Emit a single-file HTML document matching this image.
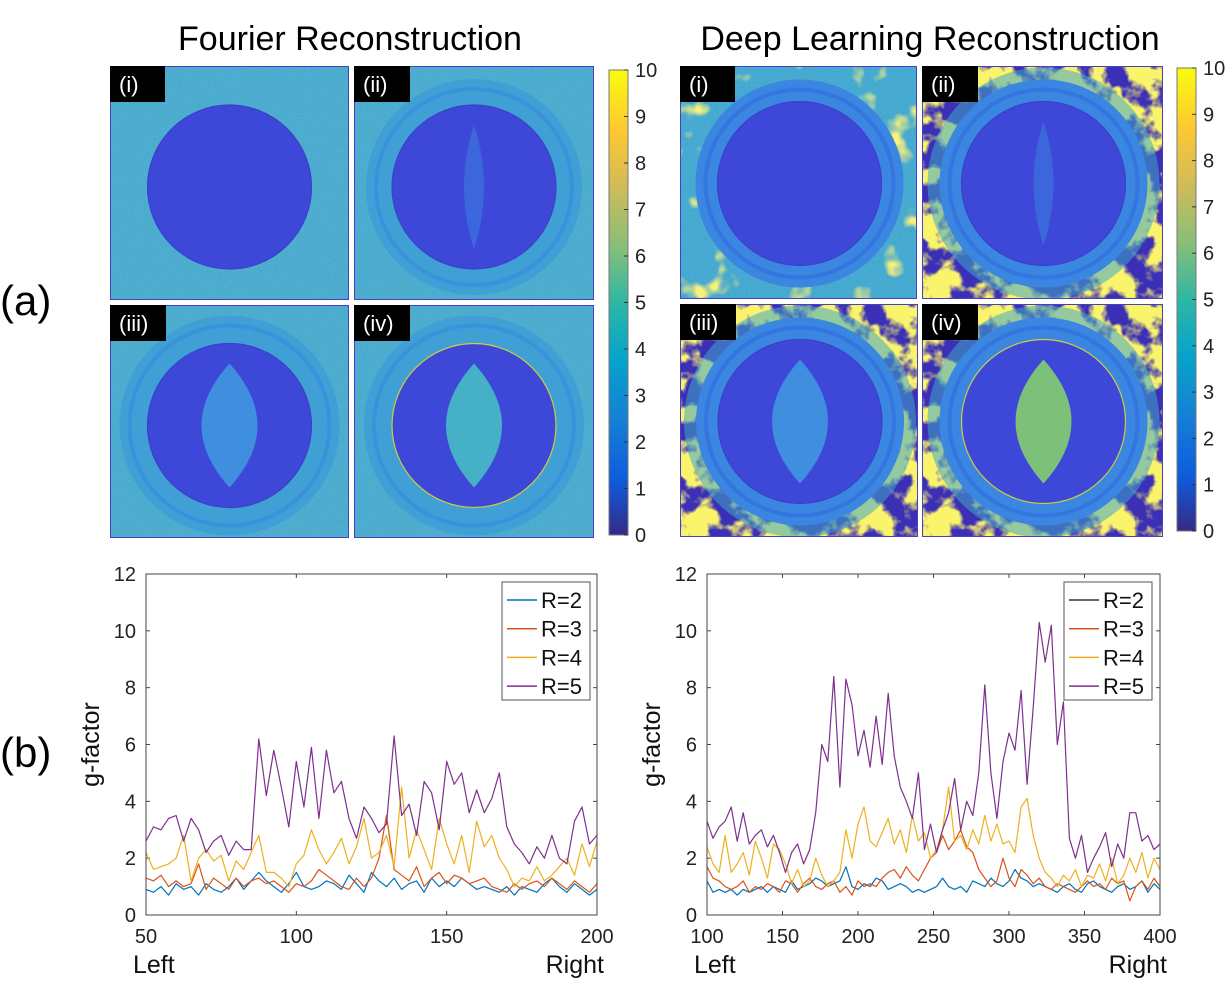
<!DOCTYPE html>
<html><head><meta charset="utf-8">
<style>
html,body{margin:0;padding:0;background:#fff;}
svg{display:block;font-family:"Liberation Sans",sans-serif;}
</style></head>
<body>
<svg id="fig" width="1232" height="994" viewBox="0 0 1232 994" xmlns="http://www.w3.org/2000/svg">
<defs>
  <linearGradient id="parula" x1="0" y1="1" x2="0" y2="0">
    <stop offset="0" stop-color="#352a87"/>
    <stop offset="0.12" stop-color="#0f5cdd"/>
    <stop offset="0.25" stop-color="#1481d6"/>
    <stop offset="0.38" stop-color="#06a4ca"/>
    <stop offset="0.5" stop-color="#2eb7a4"/>
    <stop offset="0.62" stop-color="#87bf77"/>
    <stop offset="0.75" stop-color="#d1bb59"/>
    <stop offset="0.87" stop-color="#fec832"/>
    <stop offset="1" stop-color="#f9fb0e"/>
  </linearGradient>
  <filter id="noise" x="0" y="0" width="100%" height="100%">
    <feTurbulence type="fractalNoise" baseFrequency="0.9" numOctaves="1" seed="2"/>
    <feColorMatrix type="matrix" values="0 0 0 0 0.3  0 0 0 0 0.75  0 0 0 0 0.6  1.2 0 0 0 -0.45"/>
  </filter>
  <filter id="blobY" x="0" y="0" width="100%" height="100%">
    <feTurbulence type="fractalNoise" baseFrequency="0.035" numOctaves="4" seed="5"/>
    <feColorMatrix type="matrix" values="0 0 0 0 0.96  0 0 0 0 0.9  0 0 0 0 0.15  7 0 0 0 -2.9"/>
  </filter>
  <filter id="blobS" x="0" y="0" width="100%" height="100%">
    <feTurbulence type="fractalNoise" baseFrequency="0.03" numOctaves="3" seed="9"/>
    <feColorMatrix type="matrix" values="0 0 0 0 0.95  0 0 0 0 0.88  0 0 0 0 0.2  6 0 0 0 -3.6"/>
  </filter>
</defs>
<text x="350" y="50" font-size="34" text-anchor="middle">Fourier Reconstruction</text>
<text x="930" y="50" font-size="34" text-anchor="middle">Deep Learning Reconstruction</text>
<text x="0" y="315" font-size="42">(a)</text>
<text x="0" y="767" font-size="42">(b)</text>
<g id="panels"></g>
<g id="cbars"></g>
<g id="plots"></g>
</svg>
<script>
// ---------------- chart data ----------------
const leftXRange = [50, 200];
const leftXTicks = [50, 100, 150, 200];
const rightXRange = [100, 400];
const rightXTicks = [100, 150, 200, 250, 300, 350, 400];
const yTicks = [0, 2, 4, 6, 8, 10, 12];
const seriesNames = ["R=2", "R=3", "R=4", "R=5"];
const colorbarTicks = [0,1,2,3,4,5,6,7,8,9,10];

const leftR2 = [0.9,0.8,1.0,0.7,1.1,0.9,1.0,0.7,1.1,0.9,0.8,1.0,1.3,0.9,1.2,1.5,1.2,1.0,0.8,1.1,1.5,1.0,0.9,1.0,1.2,1.1,0.9,1.4,1.1,0.8,1.5,1.2,1.0,1.3,0.9,1.1,1.2,0.8,1.3,1.0,1.2,1.0,1.3,1.1,0.9,1.0,0.9,0.8,1.0,0.7,1.0,0.9,0.8,1.1,1.3,1.0,0.8,1.1,0.9,0.7,0.9];
const leftR3 = [1.3,1.2,1.4,1.0,1.2,1.0,1.1,1.8,0.9,1.3,1.1,0.9,1.3,1.0,1.2,1.3,1.1,1.2,1.0,0.8,1.1,1.0,1.2,1.6,1.4,1.2,1.0,0.9,1.3,1.0,1.3,2.0,3.5,1.6,1.4,1.2,1.7,1.0,1.3,1.5,1.1,1.4,1.3,1.1,1.2,1.3,1.0,0.9,0.8,1.1,0.9,1.1,1.2,1.0,1.3,1.1,0.9,1.2,1.0,0.8,1.1];
const leftR4 = [2.2,1.6,1.7,1.8,2.0,2.8,1.2,2.0,2.3,1.9,2.1,1.2,1.9,1.6,2.2,2.8,1.5,1.5,1.3,1.0,1.8,2.1,3.0,2.3,1.8,2.2,2.7,1.8,2.4,3.4,2.0,2.2,2.8,1.7,4.5,2.0,3.0,2.3,1.6,3.4,2.5,1.8,2.8,1.5,3.3,2.4,2.8,2.0,1.6,1.0,1.3,1.2,1.7,1.2,1.4,1.7,2.0,1.4,2.5,1.7,2.6];
const leftR5 = [2.6,3.1,3.0,3.4,3.5,2.6,3.4,3.0,2.2,2.6,2.8,2.1,2.6,2.3,2.3,6.2,4.2,5.8,4.5,3.1,5.4,3.8,5.9,3.4,5.8,4.3,4.7,3.4,2.7,3.8,3.4,2.9,3.2,6.3,3.5,3.9,2.8,4.7,4.3,3.0,5.4,4.6,5.0,3.6,4.4,3.6,4.1,5.0,3.1,2.5,2.2,1.8,2.4,2.0,2.8,2.0,1.8,3.3,3.8,2.5,2.8];

const rightR2 = [1.2,0.8,0.9,0.8,0.9,0.7,0.9,0.8,0.9,1.0,0.8,1.0,0.9,0.8,1.2,0.9,1.0,1.1,1.3,1.2,1.0,1.1,1.2,1.7,1.0,0.9,1.1,1.0,1.3,1.2,0.9,1.0,1.1,1.0,0.8,0.9,0.8,0.9,1.0,1.3,1.0,0.9,1.0,0.8,1.2,1.1,1.0,1.3,1.1,1.0,1.2,1.6,1.3,1.2,1.0,1.1,1.0,0.9,0.8,1.0,1.1,0.9,0.8,1.1,1.2,1.0,0.9,0.8,1.0,1.1,0.9,1.0,1.2,0.8,1.1,0.9];
const rightR3 = [1.7,1.3,1.2,1.0,0.9,1.0,1.2,0.8,1.0,0.9,1.1,1.0,0.8,1.2,1.1,0.8,1.1,1.3,1.0,0.9,1.1,1.2,0.8,1.0,0.7,1.2,1.0,1.1,1.0,1.3,1.5,1.6,1.3,1.7,1.4,1.2,1.6,2.0,2.2,2.8,2.3,2.6,3.0,2.4,2.2,1.6,1.3,1.0,1.2,2.0,1.3,1.0,1.6,1.4,1.1,1.3,1.0,0.9,1.1,1.0,0.9,0.8,1.0,1.2,1.0,1.1,0.9,1.3,1.1,1.2,0.5,1.0,1.2,0.9,1.3,1.0];
const rightR4 = [2.4,1.8,1.5,2.8,1.5,1.8,2.2,1.4,2.6,2.0,1.3,2.5,2.3,1.8,1.1,1.6,1.0,1.2,2.0,1.4,1.0,1.2,1.5,3.0,2.0,3.2,3.8,2.6,2.4,2.9,3.4,2.5,3.0,2.2,3.5,2.6,2.9,2.0,2.3,3.0,4.5,2.6,2.8,2.3,3.0,2.5,3.5,2.6,3.2,2.5,2.6,2.2,3.8,4.1,2.8,2.0,1.5,1.3,1.0,1.4,1.2,1.6,1.0,1.4,1.3,1.8,1.2,2.0,1.1,1.4,2.0,1.5,2.2,1.3,2.0,1.6];
const rightR5 = [3.3,2.7,3.1,3.3,3.8,2.6,3.6,2.5,2.8,3.0,2.4,2.8,2.2,1.5,2.2,2.5,1.8,2.3,3.6,6.0,5.4,8.4,4.5,8.3,7.4,5.6,6.5,5.2,7.0,5.3,7.8,5.6,4.5,4.0,3.4,5.0,2.3,3.2,2.2,3.0,3.6,4.8,3.0,4.0,3.5,5.0,8.1,5.0,3.4,5.4,6.4,5.8,7.9,4.6,7.3,10.3,8.9,10.2,6.0,7.5,2.7,2.0,2.8,1.5,2.0,2.4,2.9,1.7,2.5,2.0,3.6,3.6,2.6,2.8,2.3,2.5];

const seriesColors = ["#0072BD","#D95319","#EDB120","#7E2F8E"];
const legendColorsLeft = ["#0072BD","#D95319","#EDB120","#7E2F8E"];
const legendColorsRight = ["#333333","#D95319","#EDB120","#7E2F8E"];

const NS = "http://www.w3.org/2000/svg";
function mk(tag, attrs, parent){
  const e = document.createElementNS(NS, tag);
  for (const k in attrs) e.setAttribute(k, attrs[k]);
  if (parent) parent.appendChild(e);
  return e;
}

// ---------------- image panels ----------------
const panelsG = document.getElementById('panels');
const panelDefs = [
  {id:'fourier-i', x:110,y:66,w:239,h:234,lab:'(i)',  dl:false, ring:0,   lens:0},
  {id:'fourier-ii',x:354,y:66,w:240,h:234,lab:'(ii)', dl:false, ring:108, lens:0.3},
  {id:'fourier-iii',x:110,y:305,w:239,h:233,lab:'(iii)',dl:false, ring:110, lens:1},
  {id:'fourier-iv',x:354,y:305,w:240,h:233,lab:'(iv)', dl:false, ring:110, lens:1.4},
  {id:'deep-i',   x:680,y:66,w:237,h:233,lab:'(i)',  dl:true, ring:104, lens:0, blobs:0.4},
  {id:'deep-ii',  x:922,y:66,w:241,h:233,lab:'(ii)', dl:true, ring:104, lens:0.3, blobs:1},
  {id:'deep-iii', x:680,y:304,w:238,h:233,lab:'(iii)',dl:true, ring:104, lens:1, blobs:1},
  {id:'deep-iv',  x:922,y:304,w:241,h:233,lab:'(iv)', dl:true, ring:104, lens:2, blobs:1}
];
panelDefs.forEach((p, idx) => {
  const g = mk('g', {transform:`translate(${p.x},${p.y})`}, panelsG);
  
  
  const cp = mk('clipPath', {id:'cp'+idx}, g);
  mk('rect', {x:0,y:0,width:p.w,height:p.h}, cp);
  const inner = mk('g', {'clip-path':`url(#cp${idx})`}, g);
  const cx = p.w/2 + (p.dl ? 1 : 0), cy = p.h/2 + (p.dl ? 1 : 4);
  if (p.dl && p.blobs === 1) {
    mk('rect', {x:0,y:0,width:p.w,height:p.h,fill:'#3b2fb5'}, inner);
    mk('rect', {x:0,y:0,width:p.w,height:p.h,filter:'url(#blobY)'}, inner);
    mk('circle', {cx:cx, cy:cy, r:p.ring+12, fill:'#40a8c8', opacity:0.55}, inner);
  } else {
    mk('rect', {x:0,y:0,width:p.w,height:p.h,fill: p.dl ? '#40a5d0' : '#47a8cf'}, inner);
    mk('rect', {x:0,y:0,width:p.w,height:p.h,filter:'url(#noise)',opacity:0.5}, inner);
    if (p.dl) mk('rect', {x:0,y:0,width:p.w,height:p.h,filter:'url(#blobS)'}, inner);
  }
  if (p.ring) {
    mk('circle', {cx:cx, cy:cy, r:p.ring, fill: p.dl ? '#3a86e0' : '#40a0d6'}, inner);
    mk('circle', {cx:cx, cy:cy, r:p.ring-10, fill:'none', stroke: p.dl ? '#3476e0' : '#3b92da', 'stroke-width':4}, inner);
  }
  mk('circle', {cx:cx, cy:cy, r:82, fill:'#3d48d8', stroke: p.lens>1.2 ? '#c8d040' : '#3a40c8', 'stroke-width':1.2}, inner);
  if (p.lens) {
    const lw = p.lens < 0.5 ? 10 : 28, lh = 62;
    const col = p.lens >= 2 ? '#7cc07a' : (p.lens > 1.2 ? '#45b0c6' : (p.lens < 0.5 ? '#3c66dc' : '#3f8ee0'));
    mk('path', {d:`M${cx},${cy-lh} Q${cx+lw*2},${cy} ${cx},${cy+lh} Q${cx-lw*2},${cy} ${cx},${cy-lh}Z`, fill:col}, inner);
  }
  mk('rect', {x:0.5,y:0.5,width:p.w-1,height:p.h-1,fill:'none',stroke:'#4a3fc0','stroke-width':1}, g);
  const lb = mk('rect', {x:0,y:0,width:p.lab.length>3?56:55,height:36,fill:'#000'}, g);
  
  
  const t = mk('text', {x:9,y:26,'font-size':22,fill:'#fff'}, g);
  t.textContent = p.lab;
  
  
});

// ---------------- colorbars ----------------
const cbG = document.getElementById('cbars');
[{x:609,y0:535,y1:70,name:'fourier'},{x:1177,y0:531,y1:68,name:'deep'}].forEach(c => {
  const r = mk('rect', {x:c.x,y:c.y1,width:19,height:c.y0-c.y1,fill:'url(#parula)',stroke:'#777','stroke-width':1}, cbG);
  
  
  colorbarTicks.forEach(v => {
    const y = c.y0 - (c.y0-c.y1)*v/10;
    mk('line', {x1:c.x+15,x2:c.x+19,y1:y,y2:y,stroke:'#333','stroke-width':1}, cbG);
    const t = mk('text', {x:c.x+26,y:y+7,'font-size':20,fill:'#222'}, cbG);
    t.textContent = v;
    
    
  });
});

// ---------------- line plots ----------------
const plotsG = document.getElementById('plots');
function drawPlot(cfg){
  const g = mk('g', {}, plotsG);
  
  
  const X = v => cfg.x0 + (v - cfg.xr[0]) / (cfg.xr[1]-cfg.xr[0]) * (cfg.x1 - cfg.x0);
  const Y = v => cfg.y0 - v / 12 * (cfg.y0 - cfg.y1);
  mk('rect', {x:cfg.x0,y:cfg.y1,width:cfg.x1-cfg.x0,height:cfg.y0-cfg.y1,fill:'#fff'}, g);
  yTicks.forEach(v => {
    const y = Y(v);
    mk('line', {x1:cfg.x0,x2:cfg.x0+4,y1:y,y2:y,stroke:'#444'}, g);
    mk('line', {x1:cfg.x1-4,x2:cfg.x1,y1:y,y2:y,stroke:'#444'}, g);
    const t = mk('text', {x:cfg.x0-10,y:y+7,'font-size':20,'text-anchor':'end',fill:'#222'}, g);
    t.textContent = v;
    
    
  });
  cfg.xt.forEach(v => {
    const x = X(v);
    mk('line', {x1:x,x2:x,y1:cfg.y0,y2:cfg.y0-4,stroke:'#444'}, g);
    mk('line', {x1:x,x2:x,y1:cfg.y1,y2:cfg.y1+4,stroke:'#444'}, g);
    const t = mk('text', {x:x,y:cfg.y0+28,'font-size':20,'text-anchor':'middle',fill:'#222'}, g);
    t.textContent = v;
    
    
  });
  cfg.series.forEach((arr, si) => {
    const n = arr.length;
    const pts = arr.map((v,i) => X(cfg.xr[0] + i*(cfg.xr[1]-cfg.xr[0])/(n-1)).toFixed(1) + ',' + Y(v).toFixed(1)).join(' ');
    const pl = mk('polyline', {points:pts,fill:'none',stroke:seriesColors[si],'stroke-width':1.2,'stroke-linejoin':'round'}, g);
    
    
  });
  mk('rect', {x:cfg.x0,y:cfg.y1,width:cfg.x1-cfg.x0,height:cfg.y0-cfg.y1,fill:'none',stroke:'#444','stroke-width':1}, g);
  const lg = mk('g', {}, g);
  
  
  mk('rect', {x:cfg.lx,y:582,width:88,height:118,fill:'#fff',stroke:'#555','stroke-width':1}, lg);
  seriesNames.forEach((s, si) => {
    const y = 600 + si*28.7;
    mk('line', {x1:cfg.lx+5,x2:cfg.lx+35,y1:y,y2:y,stroke:cfg.lcolors[si],'stroke-width':1.5}, lg);
    const t = mk('text', {x:cfg.lx+39,y:y+8,'font-size':22,fill:'#111'}, lg);
    t.textContent = s;
    
    
  });
  const yl = mk('text', {x:0,y:0,'font-size':25,'text-anchor':'middle',transform:`translate(${cfg.x0-47},${(cfg.y0+cfg.y1)/2}) rotate(-90)`,fill:'#111'}, g);
  yl.textContent = 'g-factor';
  
  
  const l = mk('text', {x:cfg.x0-13,y:973,'font-size':25,fill:'#111'}, g);
  l.textContent = 'Left';
  
  
  const r = mk('text', {x:cfg.x1+7,y:973,'font-size':25,'text-anchor':'end',fill:'#111'}, g);
  r.textContent = 'Right';
  
  
}
drawPlot({name:'fourier-gfactor-plot', x0:146, x1:597, y0:915, y1:574, xr:leftXRange, xt:leftXTicks,
  series:[leftR2,leftR3,leftR4,leftR5], lcolors:legendColorsLeft, lx:502});
drawPlot({name:'deep-learning-gfactor-plot', x0:707, x1:1160, y0:915, y1:574, xr:rightXRange, xt:rightXTicks,
  series:[rightR2,rightR3,rightR4,rightR5], lcolors:legendColorsRight, lx:1064});
</script>
</body></html>
